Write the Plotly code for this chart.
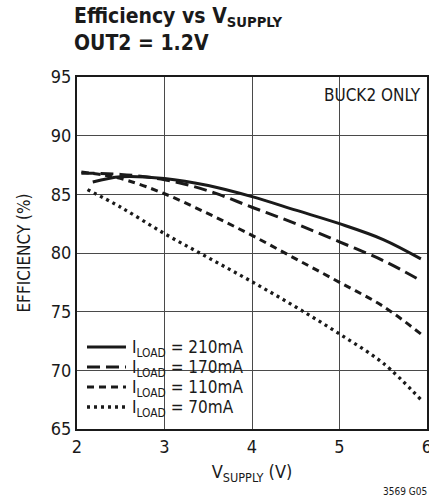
import plotly.graph_objects as go

# ---- data ----
x_210 = [2.18, 2.5, 3.0, 3.5, 4.0, 4.5, 5.0, 5.5, 5.93]
y_210 = [86.05, 86.5, 86.35, 85.75, 84.8, 83.65, 82.5, 81.15, 79.5]

x_170 = [2.05, 2.5, 3.0, 3.5, 4.0, 4.5, 5.0, 5.5, 5.93]
y_170 = [86.8, 86.7, 86.25, 85.3, 83.9, 82.5, 80.95, 79.35, 77.65]

x_110 = [2.05, 2.3, 2.57, 3.0, 3.5, 4.0, 4.5, 5.0, 5.5, 5.93]
y_110 = [86.9, 86.65, 86.2, 85.05, 83.35, 81.5, 79.5, 77.5, 75.45, 73.1]

x_70 = [2.12, 2.5, 3.0, 3.5, 4.0, 4.5, 5.0, 5.5, 5.93]
y_70 = [85.4, 83.9, 81.65, 79.6, 77.55, 75.4, 73.1, 70.6, 67.5]

series_names = ["I<sub>LOAD</sub> = 210mA", "I<sub>LOAD</sub> = 170mA",
                "I<sub>LOAD</sub> = 110mA", "I<sub>LOAD</sub> = 70mA"]
x_ticks = [2, 3, 4, 5, 6]
y_ticks = [65, 70, 75, 80, 85, 90, 95]

FONT = "DejaVu Sans Condensed"
INK = "#1a1a1a"

dashes = ["solid", "13px,6px", "7px,5px", "3px,4px"]
widths = [3, 3, 3, 3.3]

fig = go.Figure()
for xs, ys, nm, d, w in zip([x_210, x_170, x_110, x_70], [y_210, y_170, y_110, y_70],
                            series_names, dashes, widths):
    fig.add_trace(go.Scatter(x=xs, y=ys, mode="lines", name=nm,
                             line=dict(color=INK, width=w, dash=d, shape="spline", smoothing=1.0),
                             showlegend=False, hoverinfo="skip"))

W, H = 429, 501
L, R, T, B = 77, 2, 77, 72
PW, PH = W - L - R, H - T - B

def px(xp):
    return (xp - L) / PW

def py(yp):
    return (H - B - yp) / PH

shapes = []
shapes.append(dict(type="rect", xref="paper", yref="paper", x0=px(79), x1=px(247),
                   y0=py(427), y1=py(333), fillcolor="white", line=dict(width=0), layer="between"))
shapes.append(dict(type="rect", xref="paper", yref="paper", x0=px(322), x1=px(425),
                   y0=py(107), y1=py(78.5), fillcolor="white", line=dict(width=0), layer="between"))

annotations = []
row_y = [347, 367, 387, 407]
for nm, d, ry, w in zip(series_names, dashes, row_y, widths):
    shapes.append(dict(type="line", xref="paper", yref="paper", x0=px(87), x1=px(126),
                       y0=py(ry), y1=py(ry), line=dict(color=INK, width=w, dash=d), layer="above"))
    annotations.append(dict(xref="paper", yref="paper", x=px(130), y=py(ry + 1), text=nm,
                            showarrow=False, xanchor="left", yanchor="middle",
                            font=dict(family=FONT, size=17, color=INK)))

annotations.append(dict(xref="paper", yref="paper", x=px(423), y=py(95), text="BUCK2 ONLY",
                        showarrow=False, xanchor="right", yanchor="middle",
                        font=dict(family=FONT, size=17, color=INK)))

annotations.append(dict(xref="paper", yref="paper", x=px(72), y=py(2), yanchor="top", xanchor="left",
                        align="left", showarrow=False,
                        text="<b>Efficiency vs V<sub>SUPPLY</sub></b><br><b>OUT2 = 1.2V</b>",
                        font=dict(family=FONT, size=21, color=INK)))

annotations.append(dict(xref="paper", yref="paper", x=px(429), y=py(491), xanchor="right",
                        yanchor="middle", showarrow=False, text="3569 G05",
                        font=dict(family=FONT, size=10, color=INK)))

fig.update_layout(
    template="none",
    width=W, height=H,
    margin=dict(l=L, r=R, t=T, b=B, pad=0, autoexpand=False),
    paper_bgcolor="white", plot_bgcolor="white",
    font=dict(family=FONT, size=18, color=INK),
    shapes=shapes, annotations=annotations,
    showlegend=False,
)
fig.update_xaxes(range=[2, 6], tickvals=x_ticks, ticktext=[str(v) for v in x_ticks],
                 showgrid=True, gridcolor="#4a4a4a", gridwidth=1, automargin=False,
                 showline=True, linecolor=INK, linewidth=2, mirror=True,
                 ticks="", zeroline=False, ticklabeloverflow="allow",
                 title=dict(text="V<sub>SUPPLY</sub> (V)", font=dict(family=FONT, size=18), standoff=10),
                 tickfont=dict(family=FONT, size=18))
fig.update_yaxes(range=[65, 95], tickvals=y_ticks, ticktext=[str(v) for v in y_ticks],
                 showgrid=True, gridcolor="#4a4a4a", gridwidth=1, automargin=False,
                 showline=True, linecolor=INK, linewidth=2, mirror=True,
                 ticks="", zeroline=False,
                 title=dict(text="EFFICIENCY (%)", font=dict(family=FONT, size=17), standoff=16),
                 tickfont=dict(family=FONT, size=18))

fig.write_html("out.html", config={"displayModeBar": False},
               post_script="document.body.style.margin='0';document.body.style.overflow='hidden';")
